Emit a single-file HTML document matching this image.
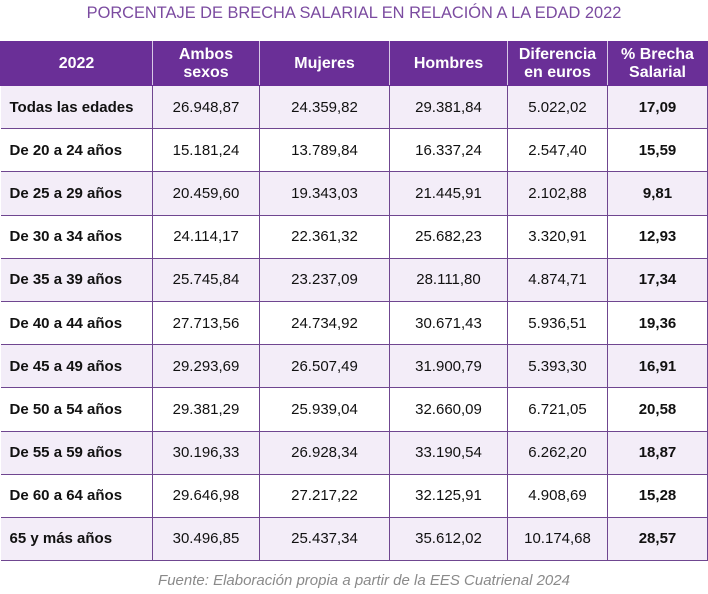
<!DOCTYPE html>
<html><head><meta charset="utf-8"><style>
html,body{margin:0;padding:0;background:#fff;width:708px;height:594px;overflow:hidden}
body{position:relative;font-family:"Liberation Sans",Arial,sans-serif}
.title{position:absolute;top:4px;left:0;width:708px;text-align:center;color:#7b4ba0;font-size:16.4px}
table{position:absolute;top:41px;left:0;width:707px;border-collapse:collapse;table-layout:fixed}
td,th{border:1.5px solid #6f4690;text-align:center;font-size:15px;color:#111;padding:0}
tr{height:43.2px}
th{background:#6a2f97;color:#fff;font-weight:bold;font-size:16px;line-height:18px;height:43px;border-color:#6a2f97;border-right-color:#d8c8e6}
th:last-child{border-right-color:#6a2f97}
td:first-child{text-align:left;padding-left:9px;font-weight:bold}
td:last-child{font-weight:bold}
tr.l td{background:#f3edf8}
tr td:first-child{border-left:none}
.src{position:absolute;top:572px;left:0;width:728px;text-align:center;color:#8a8a8a;font-style:italic;font-size:15px}
</style></head><body>
<div class="title">PORCENTAJE DE BRECHA SALARIAL EN RELACIÓN A LA EDAD 2022</div>
<table>
<colgroup><col style="width:152px"><col style="width:107px"><col style="width:130px"><col style="width:118px"><col style="width:100px"><col style="width:100px"></colgroup>
<tr><th>2022</th><th>Ambos<br>sexos</th><th>Mujeres</th><th>Hombres</th><th>Diferencia<br>en euros</th><th>% Brecha<br>Salarial</th></tr>
<tr class="l"><td>Todas las edades</td><td>26.948,87</td><td>24.359,82</td><td>29.381,84</td><td>5.022,02</td><td>17,09</td></tr>
<tr><td>De 20 a 24 años</td><td>15.181,24</td><td>13.789,84</td><td>16.337,24</td><td>2.547,40</td><td>15,59</td></tr>
<tr class="l"><td>De 25 a 29 años</td><td>20.459,60</td><td>19.343,03</td><td>21.445,91</td><td>2.102,88</td><td>9,81</td></tr>
<tr><td>De 30 a 34 años</td><td>24.114,17</td><td>22.361,32</td><td>25.682,23</td><td>3.320,91</td><td>12,93</td></tr>
<tr class="l"><td>De 35 a 39 años</td><td>25.745,84</td><td>23.237,09</td><td>28.111,80</td><td>4.874,71</td><td>17,34</td></tr>
<tr><td>De 40 a 44 años</td><td>27.713,56</td><td>24.734,92</td><td>30.671,43</td><td>5.936,51</td><td>19,36</td></tr>
<tr class="l"><td>De 45 a 49 años</td><td>29.293,69</td><td>26.507,49</td><td>31.900,79</td><td>5.393,30</td><td>16,91</td></tr>
<tr><td>De 50 a 54 años</td><td>29.381,29</td><td>25.939,04</td><td>32.660,09</td><td>6.721,05</td><td>20,58</td></tr>
<tr class="l"><td>De 55 a 59 años</td><td>30.196,33</td><td>26.928,34</td><td>33.190,54</td><td>6.262,20</td><td>18,87</td></tr>
<tr><td>De 60 a 64 años</td><td>29.646,98</td><td>27.217,22</td><td>32.125,91</td><td>4.908,69</td><td>15,28</td></tr>
<tr class="l"><td>65 y más años</td><td>30.496,85</td><td>25.437,34</td><td>35.612,02</td><td>10.174,68</td><td>28,57</td></tr>
</table>
<div class="src">Fuente: Elaboración propia a partir de la EES Cuatrienal 2024</div>
</body></html>
